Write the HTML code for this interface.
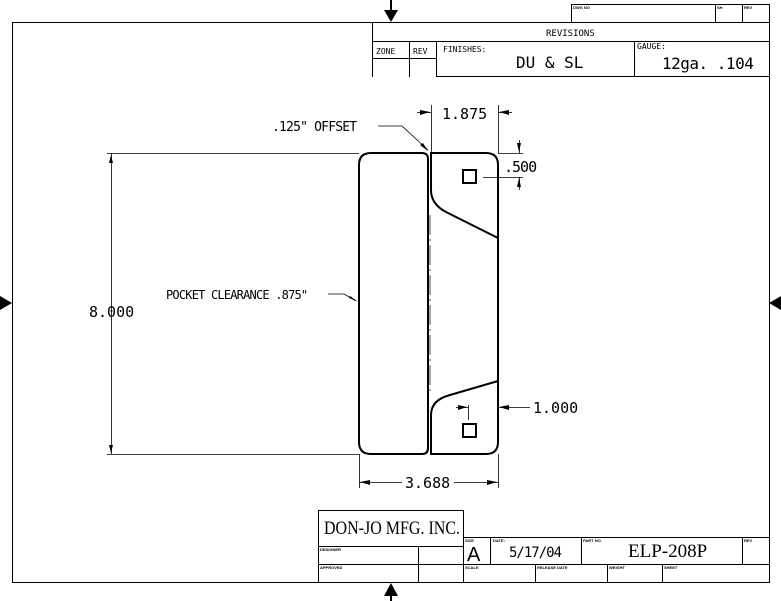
<!DOCTYPE html>
<html><head><meta charset="utf-8"><style>
html,body{margin:0;padding:0;background:#fff}
svg{display:block}
text{font-family:"Liberation Sans",sans-serif;fill:#000}
.m{font-family:"DejaVu Sans Mono","Liberation Mono",monospace}
.s{font-family:"Liberation Serif",serif}
.t{font-size:4px;font-weight:bold}
</style></head><body>
<svg width="781" height="601" viewBox="0 0 781 601" xmlns="http://www.w3.org/2000/svg">
<g fill="none" stroke="#000" stroke-width="1">
<rect x="12.5" y="22.5" width="757" height="560"/>
<polyline points="571.5,22 571.5,4.5 769.5,4.5 769.5,22"/>
<line x1="715.5" y1="4" x2="715.5" y2="22"/>
<line x1="742.5" y1="4" x2="742.5" y2="22"/>
<line x1="372.5" y1="22" x2="372.5" y2="77"/>
<line x1="372" y1="41.5" x2="769" y2="41.5"/>
<line x1="372" y1="58.5" x2="436" y2="58.5"/>
<line x1="409.5" y1="41" x2="409.5" y2="77"/>
<line x1="436.5" y1="41" x2="436.5" y2="77"/>
<line x1="634.5" y1="41" x2="634.5" y2="77"/>
<line x1="436" y1="76.5" x2="769" y2="76.5"/>
<rect x="318.5" y="510.5" width="145" height="36"/>
<line x1="318.5" y1="546" x2="318.5" y2="582"/>
<line x1="318" y1="564.5" x2="769" y2="564.5"/>
<line x1="463" y1="537.5" x2="769" y2="537.5"/>
<line x1="418.5" y1="546" x2="418.5" y2="582"/>
<line x1="463.5" y1="537" x2="463.5" y2="582"/>
<line x1="490.5" y1="537" x2="490.5" y2="564"/>
<line x1="581.5" y1="537" x2="581.5" y2="564"/>
<line x1="742.5" y1="537" x2="742.5" y2="564"/>
<line x1="535.5" y1="564" x2="535.5" y2="582"/>
<line x1="607.5" y1="564" x2="607.5" y2="582"/>
<line x1="662.5" y1="564" x2="662.5" y2="582"/>
<g stroke-width="2">
<path d="M371,153 L422,153 Q428,153 428,159 L428,448 Q428,454 422,454 L371,454 Q359,454 359,442 L359,165 Q359,153 371,153 Z"/>
<path d="M431,190 L431,153 L486,153 Q498,153 498,165 L498,442 Q498,454 486,454 L431,454 L431,415"/>
<path d="M431,190 Q431,205 448,213 L498,238"/>
<path d="M431,415 Q431,400 450,395 L498,381"/>
<rect x="463" y="170" width="13" height="13"/>
<rect x="463" y="424" width="13" height="13"/>
</g>
<line x1="430" y1="215" x2="430" y2="395" stroke-dasharray="20,4,2,4" stroke-width="0.7"/>
<g stroke-width="0.8">
<line x1="107" y1="153.5" x2="359" y2="153.5"/>
<line x1="107" y1="454.5" x2="359" y2="454.5"/>
<line x1="111.5" y1="153" x2="111.5" y2="454"/>
<line x1="359.5" y1="454" x2="359.5" y2="488"/>
<line x1="498.5" y1="454" x2="498.5" y2="488"/>
<line x1="359" y1="482.5" x2="402" y2="482.5"/>
<line x1="454" y1="482.5" x2="498" y2="482.5"/>
<line x1="431.5" y1="105" x2="431.5" y2="153"/>
<line x1="498.5" y1="105" x2="498.5" y2="153"/>
<line x1="417" y1="112.5" x2="431" y2="112.5"/>
<line x1="498" y1="112.5" x2="512" y2="112.5"/>
<line x1="498" y1="153.5" x2="523" y2="153.5"/>
<line x1="483" y1="177.5" x2="523" y2="177.5"/>
<line x1="519.5" y1="140" x2="519.5" y2="153"/>
<line x1="519.5" y1="177" x2="519.5" y2="190"/>
<line x1="498" y1="407.5" x2="530" y2="407.5"/>
<line x1="456" y1="407.5" x2="468" y2="407.5"/>
<line x1="468.5" y1="405" x2="468.5" y2="420"/>
<polyline points="378,126 402,126 428,150"/>
<polyline points="328,294 344,294 356,301"/>
</g>
</g>
<g fill="#000">
<polygon points="111,155 109,163 113,163"/>
<polygon points="111,453 109,445 113,445"/>
<polygon points="360,482 370,480 370,485"/>
<polygon points="497,482 487,480 487,485"/>
<polygon points="430,112 420,110 420,115"/>
<polygon points="499,112 509,110 509,115"/>
<polygon points="519,152 517,143 521,143"/>
<polygon points="519,178 517,187 521,187"/>
<polygon points="499,407 509,405 509,410"/>
<polygon points="467,407 458,405 458,410"/>
<polygon points="428,151 420,145 423,143"/>
<polygon points="357,301 349,298 350,296"/>
<polygon points="384,10 398,10 391,22"/>
<rect x="390" y="0" width="2" height="10"/>
<polygon points="384,596 398,596 391,583"/>
<rect x="390" y="596" width="2" height="5"/>
<polygon points="0,296 12,303 0,310"/>
<polygon points="781,296 769,303 781,310"/>
</g>
<text class="m" x="546" y="36" font-size="9">REVISIONS</text>
<text class="m" x="376" y="54" font-size="8">ZONE</text>
<text class="m" x="413" y="54" font-size="8">REV</text>
<text class="m" x="443" y="52" font-size="8">FINISHES:</text>
<text class="m" x="516" y="68" font-size="16">DU &amp; SL</text>
<text class="m" x="662" y="69" font-size="16" letter-spacing="-0.5">12ga. .104</text>
<text class="m" x="637" y="49" font-size="8">GAUGE:</text>
<text class="t" x="573" y="9">DWG NO</text>
<text class="t" x="717" y="9">SH</text>
<text class="t" x="744" y="9">REV</text>
<text class="m" x="272" y="131" font-size="13" letter-spacing="-0.8">.125" OFFSET</text>
<text class="m" x="442" y="119" font-size="15">1.875</text>
<text class="m" x="504" y="172" font-size="15" letter-spacing="-1">.500</text>
<text class="m" x="533" y="413" font-size="15">1.000</text>
<text class="m" x="405" y="488" font-size="15">3.688</text>
<text class="m" x="89" y="317" font-size="15">8.000</text>
<text class="m" x="166" y="299" font-size="12" letter-spacing="-0.8">POCKET CLEARANCE .875"</text>
<text class="s" x="324" y="534" font-size="19" textLength="136" lengthAdjust="spacingAndGlyphs">DON-JO MFG. INC.</text>
<text class="t" x="320" y="551">DESIGNER</text>
<text class="t" x="320" y="569">APPROVED</text>
<text class="t" x="465" y="542">SIZE</text>
<text x="467" y="561" font-size="20">A</text>
<text class="m" x="509" y="557" font-size="14" letter-spacing="-1">5/17/04</text>
<text class="t" x="493" y="542">DATE:</text>
<text class="t" x="583" y="542">PART NO.</text>
<text class="s" x="628" y="557" font-size="19">ELP-208P</text>
<text class="t" x="744" y="542">REV</text>
<text class="t" x="465" y="569">SCALE</text>
<text class="t" x="537" y="569">RELEASE DATE</text>
<text class="t" x="609" y="569">WEIGHT</text>
<text class="t" x="664" y="569">SHEET</text>
</svg>
</body></html>
